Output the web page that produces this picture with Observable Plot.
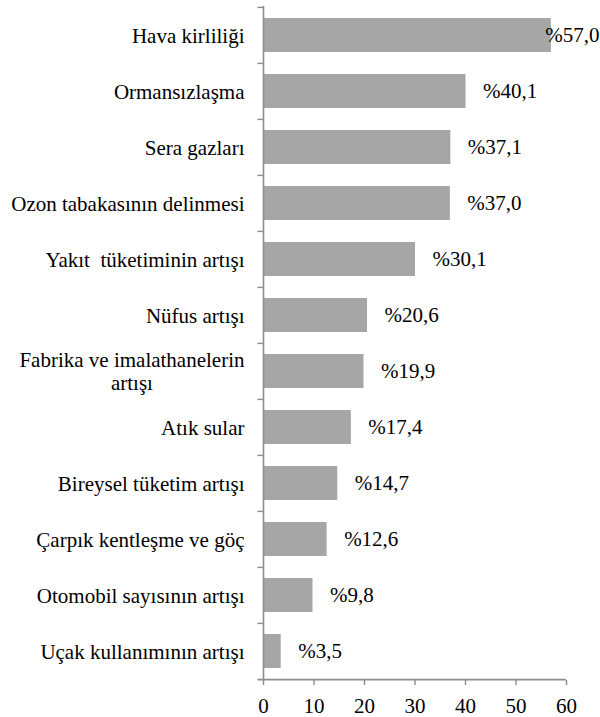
<!DOCTYPE html>
<html>
<head>
<meta charset="utf-8">
<script src="https://cdn.jsdelivr.net/npm/d3@7"></script>
<script src="https://cdn.jsdelivr.net/npm/@observablehq/plot@0.6"></script>
<style>
  html, body { margin: 0; padding: 0; background: #ffffff; }
  svg text { white-space: pre; }
</style>
</head>
<body>
<div id="chart"></div>
<script>
const categories = [
  "Hava kirliliği",
  "Ormansızlaşma",
  "Sera gazları",
  "Ozon tabakasının delinmesi",
  "Yakıt  tüketiminin artışı",
  "Nüfus artışı",
  "Fabrika ve imalathanelerin\nartışı",
  "Atık sular",
  "Bireysel tüketim artışı",
  "Çarpık kentleşme ve göç",
  "Otomobil sayısının artışı",
  "Uçak kullanımının artışı"
];
const values = [57.0, 40.1, 37.1, 37.0, 30.1, 20.6, 19.9, 17.4, 14.7, 12.6, 9.8, 3.5];
const xTicks = [0, 10, 20, 30, 40, 50, 60];

const data = categories.map((c, i) => ({category: c, value: values[i]}));
const fmt = d => "%" + d.value.toFixed(1).replace(".", ",");

const W = 600, H = 717, mt = 6, mb = 37, ml = 263, mr = 34;
const step = (H - mt - mb) / categories.length;
const axisColor = "#8c8c8c";
const font = "Liberation Serif";
const last = categories[categories.length - 1];

const chart = Plot.plot({
  width: W,
  height: H,
  marginTop: mt,
  marginBottom: mb,
  marginLeft: ml,
  marginRight: mr,
  style: {fontSize: "21px", color: "#000", background: "#fff"},
  x: {domain: [0, 60], ticks: xTicks},
  y: {domain: categories, paddingInner: 0.4, paddingOuter: 0.2},
  marks: [
    Plot.barX(data, {x: "value", y: "category", fill: "#a6a6a6"}),
    Plot.ruleX([0], {stroke: axisColor, strokeWidth: 1.6}),
    Plot.ruleY(categories, {y: d => d, x1: -1.1, x2: 0, dy: -step / 2, stroke: axisColor, strokeWidth: 1.4}),
    Plot.ruleY([last], {y: d => d, x1: -1.1, x2: 60, dy: step / 2, stroke: axisColor, strokeWidth: 1.6}),
    Plot.axisX({ticks: xTicks, tickSize: 5, tickPadding: 13, stroke: axisColor, strokeWidth: 1.4, fill: "#000", fontSize: 21, fontFamily: font, label: null}),
    Plot.axisY({tickSize: 0, tickPadding: 19, fill: "#000", fontSize: 21, fontFamily: font, lineHeight: 1.1, label: null}),
    Plot.text(data.filter(d => d.value < 50), {x: "value", y: "category", text: fmt, textAnchor: "start", dx: 17, fill: "#000", fontSize: 21, fontFamily: font}),
    Plot.text(data.filter(d => d.value >= 50), {x: "value", y: "category", text: fmt, textAnchor: "start", dx: -6, fill: "#000", fontSize: 21, fontFamily: font})
  ]
});

document.getElementById("chart").appendChild(chart);

// center multi-line category labels like the original
chart.querySelectorAll("text").forEach(t => {
  const spans = t.querySelectorAll("tspan");
  if (spans.length > 1) {
    let maxLen = 0;
    spans.forEach(s => { maxLen = Math.max(maxLen, s.getComputedTextLength()); });
    t.setAttribute("text-anchor", "middle");
    t.style.textAnchor = "middle";
    spans.forEach(s => s.setAttribute("x", -maxLen / 2));
  }
});
</script>
</body>
</html>
